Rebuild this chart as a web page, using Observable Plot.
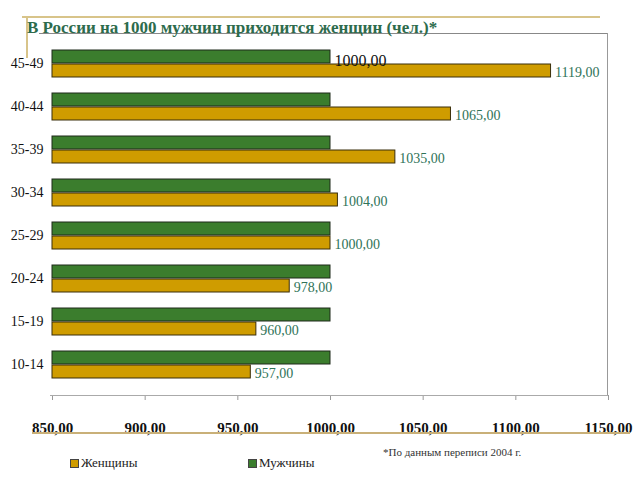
<!DOCTYPE html>
<html><head><meta charset="utf-8">
<script src="https://cdn.jsdelivr.net/npm/d3@7"></script>
<script src="https://cdn.jsdelivr.net/npm/@observablehq/plot@0.6"></script>
<style>
body{margin:0;background:#fff;}
#wrap{position:relative;width:640px;height:480px;overflow:hidden;font-family:"Liberation Serif","DejaVu Serif",serif;}
#wrap svg{position:absolute;left:0;top:0;}
.abs{position:absolute;white-space:nowrap;}
.ln{position:absolute;}
</style></head>
<body><div id="wrap"></div>
<script>
const ages = ["45-49","40-44","35-39","30-34","25-29","20-24","15-19","10-14"];
const women = [1119,1065,1035,1004,1000,978,960,957];
const men = [1000,1000,1000,1000,1000,1000,1000,1000];
const xTicks = [850,900,950,1000,1050,1100,1150];
const seriesNames = ["Женщины","Мужчины"];
const title = "В России на 1000 мужчин приходится женщин (чел.)*";
const footnote = "*По данным переписи 2004 г.";

const fmt = v => v.toFixed(2).replace(".", ",");
const dW = ages.map((a,i)=>({age:a, value:women[i]}));
const dM = ages.map((a,i)=>({age:a, value:men[i]}));
const gold = "#cf9c00", green = "#3b7d2d";

const chart = Plot.plot({
  width:640, height:480,
  marginLeft:52, marginRight:32, marginTop:33, marginBottom:85,
  style:{fontFamily:"Liberation Serif, serif", background:"transparent"},
  x:{domain:[850,1150], label:null},
  y:{domain:ages, padding:0.381, label:null},
  marks:[
    Plot.barX(dM,{x1:850,x2:"value",y:"age",fill:green,stroke:"#1e2a1a",strokeWidth:1,insetBottom:14}),
    Plot.barX(dW,{x1:850,x2:"value",y:"age",fill:gold,stroke:"#3a2e0a",strokeWidth:1,insetTop:14}),
    Plot.text(dW,{x:"value",y:"age",text:d=>fmt(d.value),dx:4,dy:9,textAnchor:"start",fill:"#2f7358",fontSize:14}),
    Plot.text(dM.slice(0,1),{x:"value",y:"age",text:d=>fmt(d.value),dx:4,dy:-3,textAnchor:"start",fill:"#111",fontSize:16}),
    Plot.axisY({tickSize:0,tickPadding:9,fontSize:14,fill:"#111",label:null}),
    Plot.axisX({ticks:xTicks,tickFormat:fmt,tickSize:5,tickPadding:22,fontSize:15,fontWeight:"bold",fill:"#111",stroke:"#999",label:null})
  ]
});
const wrap = document.getElementById("wrap");
wrap.appendChild(chart);

function line(l,t,w,h,c){const d=document.createElement("div");d.className="ln";Object.assign(d.style,{left:l+"px",top:t+"px",width:w+"px",height:h+"px",background:c});wrap.appendChild(d);}
function txt(s,l,t,css){const d=document.createElement("div");d.className="abs";d.textContent=s;d.style.left=l+"px";d.style.top=t+"px";Object.assign(d.style,css||{});wrap.appendChild(d);return d;}
// decorative slide lines
line(22,16,578,2,"#d8c48a");
line(26,16,2,42,"#d8c48a");
line(32,432,598,2,"#c9b078");
// plot border
line(39,33,569,1,"#888");
line(607,33,1,362,"#999");
line(50,395,558,1,"#aaa");
// title
txt(title,27,18,{color:"#2d6b4c",fontSize:"17px",fontWeight:"bold"});
// legend
const sw=[gold,green], lx=[70,248];
seriesNames.forEach((s,i)=>{
  const b=document.createElement("div");b.className="ln";Object.assign(b.style,{left:lx[i]+"px",top:459+"px",width:"7px",height:"7px",background:sw[i],border:"1px solid #444"});wrap.appendChild(b);
  txt(s,lx[i]+11,455,{fontSize:"13px",color:"#222"});
});
txt(footnote,383,446,{fontSize:"11px",color:"#333"});
</script></body></html>
